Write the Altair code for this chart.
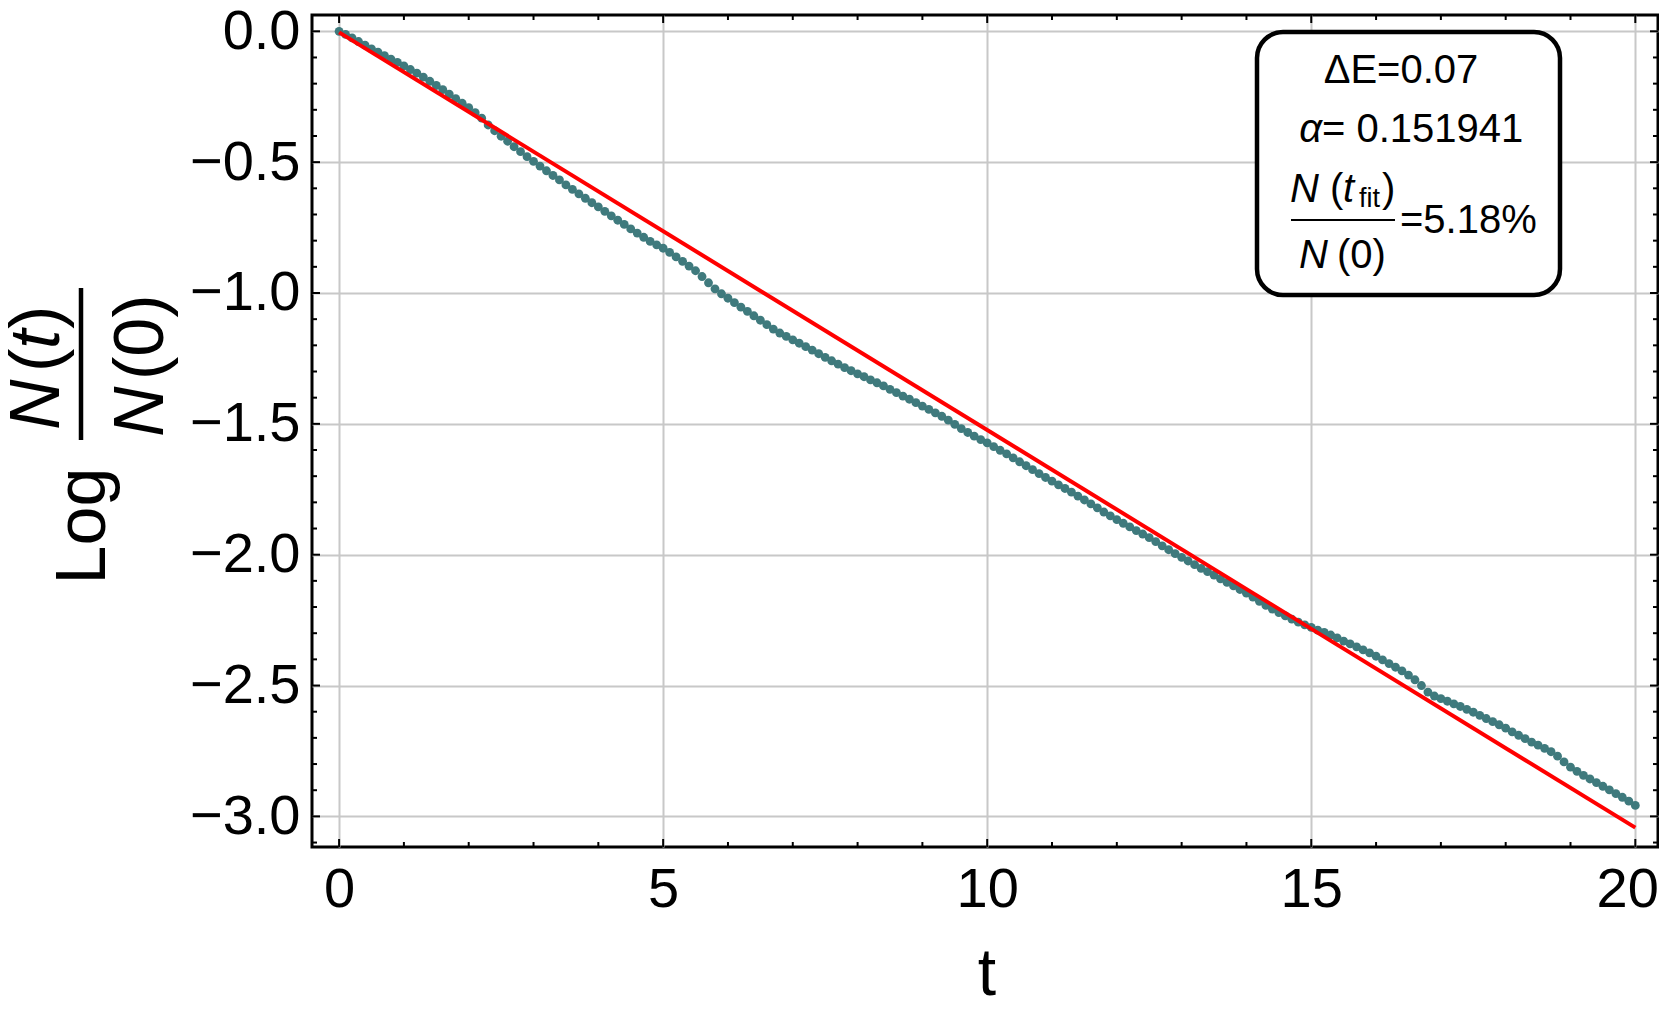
import altair as alt
import pandas as pd

# ---------------- data ----------------
t_values = [round(0.1 * i, 1) for i in range(201)]
log_ratio = [
    0.000, -0.012, -0.025, -0.039, -0.053, -0.067, -0.080, -0.093, -0.106, -0.119,
    -0.132, -0.146, -0.160, -0.175, -0.191, -0.207, -0.223, -0.240, -0.257, -0.275,
    -0.292, -0.311, -0.332, -0.358, -0.380, -0.401, -0.420, -0.441, -0.460, -0.479,
    -0.497, -0.515, -0.533, -0.551, -0.568, -0.587, -0.604, -0.621, -0.638, -0.655,
    -0.671, -0.688, -0.705, -0.722, -0.738, -0.755, -0.771, -0.787, -0.803, -0.816,
    -0.829, -0.845, -0.862, -0.879, -0.897, -0.915, -0.937, -0.961, -0.984, -1.003,
    -1.020, -1.037, -1.054, -1.070, -1.087, -1.104, -1.121, -1.138, -1.153, -1.166,
    -1.179, -1.192, -1.205, -1.218, -1.232, -1.246, -1.259, -1.272, -1.285, -1.297,
    -1.309, -1.320, -1.332, -1.343, -1.355, -1.368, -1.381, -1.394, -1.406, -1.419,
    -1.432, -1.445, -1.458, -1.471, -1.486, -1.502, -1.518, -1.533, -1.547, -1.560,
    -1.573, -1.587, -1.601, -1.615, -1.630, -1.645, -1.660, -1.675, -1.690, -1.705,
    -1.719, -1.733, -1.747, -1.761, -1.776, -1.791, -1.806, -1.821, -1.837, -1.852,
    -1.866, -1.880, -1.894, -1.908, -1.921, -1.935, -1.950, -1.966, -1.981, -1.996,
    -2.010, -2.024, -2.038, -2.052, -2.065, -2.078, -2.092, -2.106, -2.119, -2.133,
    -2.147, -2.162, -2.178, -2.194, -2.208, -2.221, -2.234, -2.246, -2.258, -2.268,
    -2.278, -2.288, -2.297, -2.307, -2.318, -2.330, -2.341, -2.352, -2.364, -2.375,
    -2.388, -2.402, -2.416, -2.430, -2.444, -2.460, -2.478, -2.500, -2.525, -2.540,
    -2.550, -2.560, -2.570, -2.580, -2.591, -2.602, -2.614, -2.626, -2.638, -2.650,
    -2.663, -2.677, -2.690, -2.703, -2.716, -2.728, -2.740, -2.753, -2.770, -2.792,
    -2.812, -2.828, -2.843, -2.857, -2.871, -2.885, -2.899, -2.913, -2.927, -2.942,
    -2.958,
]

fit_t = [0.0, 20.0]
fit_y = [-0.004, -3.043]

x_major = [0, 5, 10, 15, 20]
x_minor = [1, 2, 3, 4, 6, 7, 8, 9, 11, 12, 13, 14, 16, 17, 18, 19]
y_major = [0.0, -0.5, -1.0, -1.5, -2.0, -2.5, -3.0]
y_minor = [round(-0.1 * i, 1) for i in range(1, 32) if i % 5 != 0]

# ---------------- layout ----------------
W, H = 1346, 832
FONT = "Liberation Sans"
DOT = "#3f7a7d"

x_enc = alt.X(
    "t:Q",
    scale=alt.Scale(domain=[-0.418, 20.350], nice=False, zero=False),
    axis=alt.Axis(values=x_major, format="d", title="", grid=True, ticks=False,
                  domain=False, labelFontSize=56, labelFont=FONT, labelColor="black",
                  labelPadding=15, labelFlush=25, labelFlushOffset=23,
                  gridColor="#c8c8c8", gridWidth=2),
)
y_enc = alt.Y(
    "y:Q",
    scale=alt.Scale(domain=[-3.117, 0.0623], nice=False, zero=False),
    axis=alt.Axis(values=y_major, format=".1f", title="", grid=True, ticks=False,
                  domain=False, labelFontSize=56, labelFont=FONT, labelColor="black",
                  labelPadding=12, gridColor="#c8c8c8", gridWidth=2),
)

df = pd.DataFrame({"t": t_values, "y": log_ratio})
fit_df = pd.DataFrame({"t": fit_t, "y": fit_y})
one = pd.DataFrame({"a": [0]})

points = alt.Chart(df).mark_circle(size=78, opacity=1, color=DOT).encode(x=x_enc, y=y_enc)
fit = alt.Chart(fit_df).mark_line(color="#ff0000", strokeWidth=4).encode(x=x_enc, y=y_enc)


def xticks(vals, length):
    d = pd.DataFrame({"t": vals})
    bottom = alt.Chart(d).mark_rule(color="black", strokeWidth=2).encode(
        x=x_enc, y=alt.value(H), y2=alt.value(H - length))
    top = alt.Chart(d).mark_rule(color="black", strokeWidth=2).encode(
        x=x_enc, y=alt.value(0), y2=alt.value(length))
    return [bottom, top]


def yticks(vals, length):
    d = pd.DataFrame({"y": vals})
    left = alt.Chart(d).mark_rule(color="black", strokeWidth=2).encode(
        y=y_enc, x=alt.value(0), x2=alt.value(length))
    right = alt.Chart(d).mark_rule(color="black", strokeWidth=2).encode(
        y=y_enc, x=alt.value(W), x2=alt.value(W - length))
    return [left, right]


tick_layers = xticks(x_major, 8) + xticks(x_minor, 5) + yticks(y_major, 8) + yticks(y_minor, 5)


def txt(s, x, y, size, align="left", style="normal", angle=0, baseline="alphabetic"):
    kw = dict(text=s, fontSize=size, font=FONT, align=align, baseline=baseline,
              fontStyle=style, color="black")
    if angle:
        kw["angle"] = angle
    return alt.Chart(one).mark_text(**kw).encode(x=alt.value(x), y=alt.value(y))


# legend box
box = alt.Chart(one).mark_rect(fill="white", stroke="black", strokeWidth=4.5,
                               cornerRadius=26).encode(
    x=alt.value(945), x2=alt.value(1248), y=alt.value(17), y2=alt.value(280))
frac_bar = alt.Chart(one).mark_rule(color="black", strokeWidth=2).encode(
    x=alt.value(979), x2=alt.value(1083), y=alt.value(205))

legend_texts = [
    txt("ΔE=0.07", 1089, 68, 40, align="center"),
    txt("α", 1010, 127, 40, align="right", style="italic"),
    txt("= 0.151941", 1010, 127, 40),
    txt("N", 978, 187, 40, style="italic"),
    txt("(", 1018, 187, 40),
    txt("t", 1031, 187, 40, style="italic"),
    txt("fit", 1047, 192, 27),
    txt(")", 1070, 187, 40),
    txt("N", 987, 253, 40, style="italic"),
    txt("(0)", 1025, 253, 40),
    txt("=5.18%", 1088, 218, 40),
]

# y-axis title: Log N(t)/N(0), rotated
ybar = alt.Chart(one).mark_rule(color="black", strokeWidth=4.5).encode(
    x=alt.value(-231), y=alt.value(273), y2=alt.value(425))
ytitle = [
    txt("Log", -207, 511, 70, align="center", angle=270),
    txt("N", -253, 415, 70, style="italic", angle=270),
    txt("(", -253, 357, 70, angle=270),
    txt("t", -253, 334, 70, style="italic", angle=270),
    txt(")", -253, 314, 70, angle=270),
    txt("N", -149, 422, 70, style="italic", angle=270),
    txt("(0)", -149, 365, 70, angle=270),
]

xtitle = txt("t", 675, 980, 66, align="center")

chart = alt.layer(
    points, fit, *tick_layers, box, frac_bar, *legend_texts, ybar, *ytitle, xtitle
).properties(
    width=W, height=H,
    background="white",
    autosize=alt.AutoSizeParams(type="none"),
    padding={"left": 304, "top": 7, "right": 1, "bottom": 150},
).configure_view(
    stroke="black", strokeWidth=3
)

chart.save("out.html", embed_options={"renderer": "svg", "actions": False})
